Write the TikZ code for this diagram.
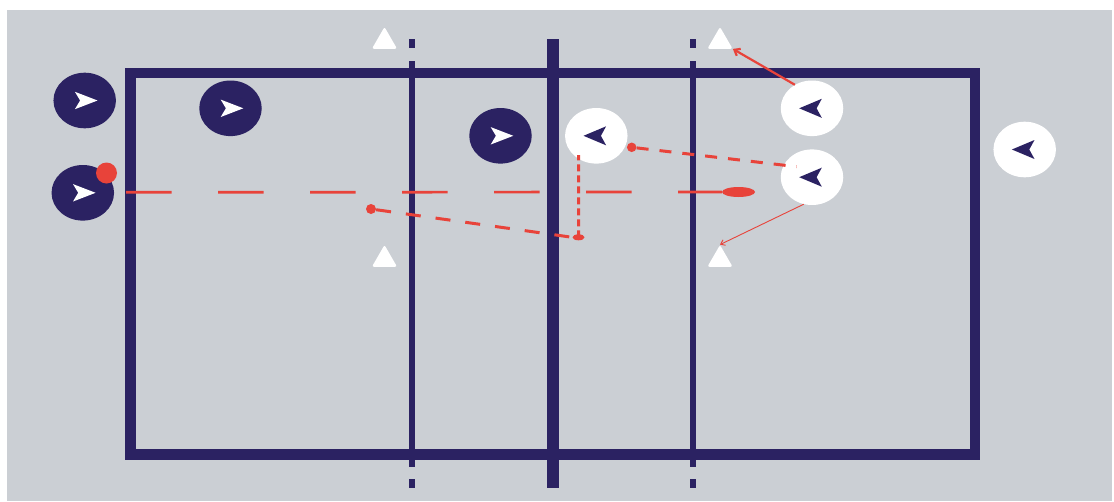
\documentclass[tikz,border=0pt]{standalone}
\usetikzlibrary{shapes.geometric,arrows.meta,calc}
\definecolor{bg}{RGB}{203,207,212}
\definecolor{navy}{RGB}{43,34,98}
\definecolor{ared}{RGB}{232,67,58}
\begin{document}
\begin{tikzpicture}[x=1pt,y=-1pt,
  player/.style={ellipse,minimum width=62.5pt,minimum height=55.6pt,inner sep=0pt},
  home/.style={player,fill=navy},
  away/.style={player,fill=white},
  cone/.style={regular polygon,regular polygon sides=3,fill=white,minimum size=29pt,inner sep=0pt,rounded corners=2pt},
  courtline/.style={draw=navy,line width=10.6pt,line join=miter},
  attackline/.style={draw=navy,line width=6.3pt},
  netline/.style={draw=navy,line width=12.3pt},
  ball/.style={circle,fill=ared,inner sep=0pt},
  pass/.style={draw=ared,line width=2.7pt},
  dartR/.pic={\fill[white] (12.8,0) -- (-9.8,-8.7) -- (-4.6,0) -- (-9.8,8.7) -- cycle;},
  dartL/.pic={\fill[navy] (-12.8,0) -- (9.8,-9.5) -- (4.6,0) -- (9.8,9.5) -- cycle;}
]
\useasboundingbox (0,0) rectangle (1114,501);
\fill[bg] (7,10) rectangle (1112,501);

% court
\draw[courtline] (130.5,73) rectangle (975,454.7);
% attack lines
\draw[attackline] (412,61) -- (412,467);
\draw[attackline] (412,39) -- (412,48.3);
\draw[attackline] (412,479) -- (412,488);
\draw[attackline] (693.3,61) -- (693.3,467);
\draw[attackline] (693.3,39) -- (693.3,48.3);
\draw[attackline] (693.3,479) -- (693.3,488);
% net
\draw[netline] (553,39) -- (553,488);

% cones
\node[cone] (cTL) at (384.5,41.5) {};
\node[cone] (cTR) at (720,41.5) {};
\node[cone] (cBL) at (384.5,259.5) {};
\node[cone] (cBR) at (720,259.5) {};

% home players
\node[home] (p1) at (84.7,100.5) {};
\node[home] (p2) at (230.5,108.3) {};
\node[home] (p3) at (82.8,192.8) {};
\node[home] (p4) at (500.5,135.8) {};
\foreach \p in {p1,p2,p3,p4} \pic at (\p) {dartR};

% away players
\node[away] (p5) at (596.3,135.8) {};
\node[away] (p6) at (812,108.3) {};
\node[away] (p7) at (812,177.2) {};
\node[away] (p8) at (1024.7,149.5) {};
\foreach \p in {p5,p6,p7,p8} \pic at (\p) {dartL};

% balls and dots
\node[ball,minimum size=21pt] (ball) at (106.5,173) {};
\node[ellipse,fill=ared,minimum width=33pt,minimum height=10pt,inner sep=0pt] (ballE) at (738.5,192) {};
\node[ball,minimum size=10pt] (dot1) at (371,209) {};
\node[ellipse,fill=ared,minimum width=12pt,minimum height=6pt,inner sep=0pt] (smallE) at (578.5,237.3) {};
\node[ball,minimum size=9.5pt] (dot2) at (631.7,147.3) {};
\coordinate (passStart) at (126,192.3);

% red movement lines
\draw[pass,dash pattern=on 45.5pt off 46.5pt] (passStart) -- (ballE.west);
\draw[draw=ared,line width=3pt,dash pattern=on 15pt off 15pt] (dot1) -- (smallE.west);
\draw[draw=ared,line width=3pt,dash pattern=on 7pt off 4pt] (smallE.center) -- ($(p5.center)+(-17.6,19.2)$);
\draw[draw=ared,line width=3pt,dash pattern=on 12pt off 11pt] (dot2) -- ($(p7.center)+(-15.3,-10.5)$);
\draw[draw=ared,line width=2.2pt,-{Straight Barb[length=5pt,width=8pt]}] (p6.126) -- (cTR);
\draw[draw=ared,line width=0.9pt,-{Straight Barb[length=4pt,width=6pt]}] (p7.253) -- (cBR.north);
\end{tikzpicture}
\end{document}
